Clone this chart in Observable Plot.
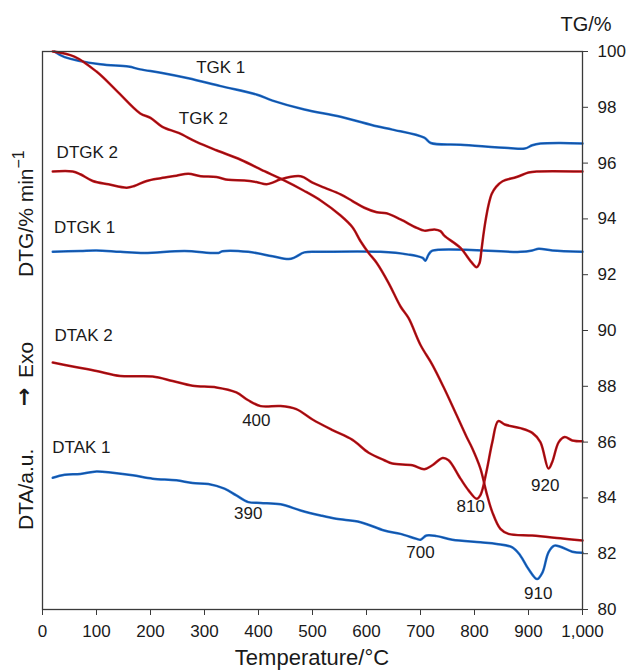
<!DOCTYPE html>
<html>
<head>
<meta charset="utf-8">
<script src="https://cdn.jsdelivr.net/npm/d3@7"></script>
<script src="https://cdn.jsdelivr.net/npm/@observablehq/plot@0.6"></script>
<style>
  html, body { margin: 0; padding: 0; background: #fff; }
  #chart { width: 627px; height: 671px; }
</style>
</head>
<body>
<div id="chart"></div>
<script>
// ---- Data (temperature °C, value on TG/% scale) ----
const xTicks = [0, 100, 200, 300, 400, 500, 600, 700, 800, 900, 1000];
const yTicks = [80, 82, 84, 86, 88, 90, 92, 94, 96, 98, 100];

const tgk1T = [22, 41, 107, 159, 181, 219, 270, 330, 396, 426, 485, 552, 619, 648, 707, 719, 774, 863, 893, 907, 922, 959, 1000];
const tgk1V = [100.0, 99.8, 99.54, 99.46, 99.36, 99.24, 99.04, 98.76, 98.46, 98.24, 97.92, 97.66, 97.32, 97.2, 96.91, 96.72, 96.66, 96.54, 96.52, 96.64, 96.70, 96.72, 96.70];

const tgk2T = [19, 59, 100, 137, 181, 200, 222, 252, 285, 322, 367, 411, 441, 485, 515, 552, 574, 589, 604, 619, 641, 663, 678, 700, 722, 744, 767, 785, 796, 811, 822, 833, 848, 863, 907, 959, 1000];
const tgk2V = [100.0, 99.82, 99.28, 98.6, 97.78, 97.62, 97.3, 97.08, 96.76, 96.46, 96.12, 95.71, 95.44, 95.0, 94.66, 94.12, 93.7, 93.2, 92.78, 92.42, 91.7, 90.86, 90.44, 89.48, 88.77, 87.92, 86.96, 86.2, 85.77, 85.05, 84.2, 83.49, 82.89, 82.71, 82.65, 82.55, 82.47];

const dtgk2T = [19, 56, 70, 93, 122, 156, 170, 193, 219, 248, 270, 293, 322, 344, 374, 396, 415, 426, 441, 478, 500, 522, 552, 574, 596, 619, 637, 663, 693, 707, 726, 737, 744, 774, 793, 804, 809, 813, 817, 821, 826, 832, 840, 852, 878, 900, 915, 1000];
const dtgk2V = [95.7, 95.7, 95.6, 95.36, 95.24, 95.12, 95.18, 95.36, 95.46, 95.55, 95.62, 95.53, 95.5, 95.4, 95.38, 95.32, 95.24, 95.3, 95.42, 95.53, 95.3, 95.12, 94.88, 94.64, 94.4, 94.24, 94.2, 93.98, 93.68, 93.58, 93.62, 93.56, 93.4, 92.96, 92.48, 92.27, 92.4, 92.9, 93.5, 94.0, 94.5, 94.9, 95.15, 95.35, 95.5, 95.66, 95.7, 95.7];

const dtgk1T = [19, 70, 100, 144, 189, 263, 326, 333, 381, 426, 456, 467, 485, 515, 626, 678, 704, 709, 715, 722, 885, 907, 919, 944, 1000];
const dtgk1V = [92.82, 92.85, 92.87, 92.82, 92.78, 92.85, 92.78, 92.84, 92.82, 92.66, 92.56, 92.62, 92.8, 92.82, 92.82, 92.72, 92.6, 92.5, 92.72, 92.86, 92.82, 92.87, 92.93, 92.87, 92.82];

const dtak2T = [19, 56, 100, 144, 204, 241, 278, 322, 359, 381, 404, 441, 470, 500, 537, 574, 604, 633, 648, 685, 707, 722, 741, 752, 774, 789, 804, 811, 822, 833, 844, 856, 885, 907, 922, 937, 944, 956, 967, 981, 1000];
const dtak2V = [88.85, 88.71, 88.55, 88.37, 88.35, 88.19, 88.02, 87.96, 87.78, 87.5, 87.29, 87.29, 87.18, 86.81, 86.43, 86.08, 85.62, 85.35, 85.23, 85.17, 85.03, 85.17, 85.43, 85.35, 84.69, 84.27, 83.97, 84.1, 84.93, 86.0, 86.75, 86.63, 86.5, 86.33, 86.0, 85.05, 85.29, 86.0, 86.18, 86.06, 86.03];

const dtak1T = [19, 41, 70, 100, 130, 167, 204, 248, 278, 307, 337, 359, 381, 404, 441, 478, 515, 544, 589, 633, 663, 693, 700, 711, 730, 759, 811, 841, 870, 885, 900, 916, 926, 937, 948, 959, 981, 1000];
const dtak1V = [84.72, 84.83, 84.86, 84.95, 84.9, 84.81, 84.69, 84.63, 84.53, 84.5, 84.33, 84.09, 83.85, 83.82, 83.77, 83.55, 83.37, 83.25, 83.13, 82.83, 82.71, 82.53, 82.5, 82.65, 82.63, 82.5, 82.41, 82.35, 82.23, 81.93, 81.45, 81.09, 81.33, 82.05, 82.29, 82.25, 82.07, 82.03];

const labelText = ["TGK 1", "TGK 2", "DTGK 2", "DTGK 1", "DTAK 2", "400", "DTAK 1", "390", "700", "810", "920", "910"];
const labelT    = [330, 298, 83, 78, 76, 396, 72, 381, 700, 793, 931, 918];
const labelV    = [99.44, 97.59, 96.39, 93.70, 89.82, 86.77, 85.82, 83.45, 82.05, 83.69, 84.44, 80.58];

// ---- Build tables ----
const rows = (T, V) => T.map((t, i) => ({t, v: V[i]}));
const BLUE = "#1f6fd0", BLUE_CORE = "#0e3a78";
const RED = "#c8141a", RED_CORE = "#5e0a0a";
const series = [
  {data: rows(tgk1T, tgk1V), c: BLUE, k: BLUE_CORE},
  {data: rows(dtgk1T, dtgk1V), c: BLUE, k: BLUE_CORE},
  {data: rows(dtak1T, dtak1V), c: BLUE, k: BLUE_CORE},
  {data: rows(dtgk2T, dtgk2V), c: RED, k: RED_CORE},
  {data: rows(dtak2T, dtak2V), c: RED, k: RED_CORE},
  {data: rows(tgk2T, tgk2V), c: RED, k: RED_CORE}
];
const labels = labelText.map((s, i) => ({s, t: labelT[i], v: labelV[i]}));

const lineMarks = [];
for (const s of series) {
  lineMarks.push(Plot.line(s.data, {x: "t", y: "v", stroke: s.c, strokeWidth: 2.5, curve: "catmull-rom"}));
  lineMarks.push(Plot.line(s.data, {x: "t", y: "v", stroke: s.k, strokeWidth: 0.9, strokeOpacity: 0.75, curve: "catmull-rom"}));
}

const FONT = "'Liberation Sans', Arial, Helvetica, sans-serif";
const svg = Plot.plot({
  width: 627,
  height: 671,
  marginTop: 51,
  marginBottom: 62,
  marginLeft: 42,
  marginRight: 45,
  style: {fontFamily: FONT, fontSize: "17px", background: "#fff", color: "#1a1a1a", overflow: "visible"},
  x: {domain: [0, 1000]},
  y: {domain: [80, 100]},
  marks: [
    ...lineMarks,
    Plot.frame({stroke: "#3a3a3a", strokeWidth: 1.3}),
    Plot.axisX({ticks: xTicks, tickFormat: d3.format(","), tickSize: 6, tickPadding: 9, label: null, stroke: "#3a3a3a", fontSize: 17}),
    Plot.axisY({anchor: "right", ticks: yTicks, tickSize: 5, tickPadding: 10, label: null, stroke: "#3a3a3a", fontSize: 17}),
    Plot.text(labels, {x: "t", y: "v", text: "s", fontSize: 17, fill: "#1a1a1a"})
  ]
});

// ---- Axis titles ----
const s = d3.select(svg);
const g = s.append("g").attr("font-family", FONT).attr("fill", "#1a1a1a");
g.append("text").attr("x", 312).attr("y", 665).attr("text-anchor", "middle").attr("font-size", 22).text("Temperature/°C");
g.append("text").attr("x", 586).attr("y", 31).attr("text-anchor", "middle").attr("font-size", 20).text("TG/%");
g.append("text").attr("transform", "translate(33,530) rotate(-90)").attr("text-anchor", "start").attr("font-size", 21).text("DTA/a.u.");
g.append("text").attr("transform", "translate(31,406) rotate(-90)").attr("text-anchor", "start")
  .attr("font-family", "'DejaVu Sans', sans-serif").attr("font-size", 22).attr("font-weight", "bold").text("→");
g.append("text").attr("transform", "translate(33,378) rotate(-90)").attr("text-anchor", "start").attr("font-size", 21).text("Exo");
const dtg = g.append("text").attr("transform", "translate(33,277) rotate(-90)").attr("text-anchor", "start").attr("font-size", 21);
dtg.append("tspan").text("DTG/% min");
dtg.append("tspan").attr("dy", "-0.55em").attr("font-size", 16).text("−1");

document.getElementById("chart").appendChild(svg);
</script>
</body>
</html>
